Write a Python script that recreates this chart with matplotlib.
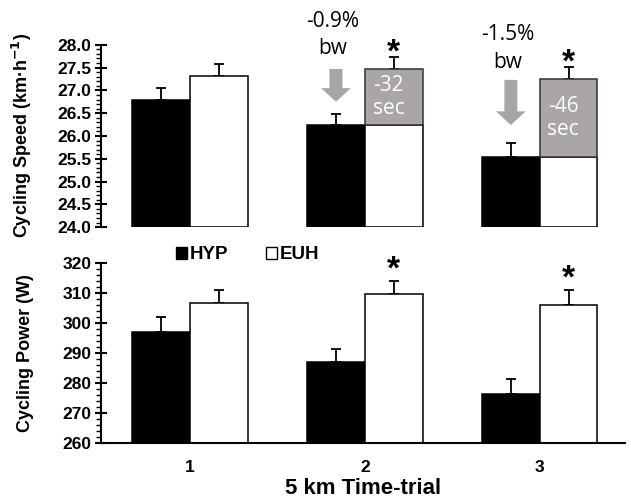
import matplotlib
matplotlib.use("Agg")
import matplotlib.pyplot as plt
from matplotlib.patches import Patch
from matplotlib.ticker import MultipleLocator

# data
trials = ["1", "2", "3"]
hyp_speed = [26.79, 26.24, 25.54]
hyp_speed_err = [0.27, 0.24, 0.31]
euh_speed = [27.32, 27.47, 27.25]
euh_speed_err = [0.26, 0.27, 0.27]
time_gain = ["", "-32\nsec", "-46\nsec"]      # seconds saved (grey part of EUH bar)
bw_loss = ["", "-0.9%\nbw", "-1.5%\nbw"]
hyp_power = [297.0, 287.0, 276.3]
hyp_power_err = [5.0, 4.3, 5.0]
euh_power = [306.7, 309.7, 306.0]
euh_power_err = [4.3, 4.3, 5.0]
signif = [False, True, True]

BOLD = "Liberation Sans"
SOFT = "Open Sans"
GREY = "#aaa6a6"
W = 0.33

fig = plt.figure(figsize=(6.31, 4.98), dpi=100)
ax1 = fig.add_axes([0.160, 0.544, 0.830, 0.366])
ax2 = fig.add_axes([0.160, 0.110, 0.830, 0.362])

x = list(range(len(trials)))
xh = [i - W / 2 for i in x]
xe = [i + W / 2 for i in x]


def style_axis(ax, lo, hi, major, minor, fmt):
    ax.set_ylim(lo, hi)
    ax.set_xlim(-0.509, 2.486)
    ax.yaxis.set_major_locator(MultipleLocator(major))
    ax.yaxis.set_minor_locator(MultipleLocator(minor))
    ax.yaxis.set_major_formatter(fmt)
    ax.tick_params(axis="y", which="major", direction="inout", length=8, width=1.5,
                   labelsize=12.5, pad=3)
    ax.tick_params(axis="y", which="minor", direction="out", length=3.5, width=1.0)
    for lab in ax.get_yticklabels():
        lab.set_fontfamily(BOLD)
        lab.set_fontweight("bold")
    for s in ["top", "right"]:
        ax.spines[s].set_visible(False)
    ax.spines["left"].set_linewidth(1.5)
    ax.spines["bottom"].set_linewidth(1.5)


ekw = dict(fmt="none", ecolor="black", elinewidth=1.3, capsize=3.6, capthick=1.3, zorder=1)

# ---- top panel: speed ----
ax1.bar(xh, [v - 24 for v in hyp_speed], W, bottom=24, color="black", edgecolor="black",
        linewidth=1.1, zorder=2)
ax1.errorbar(xh, hyp_speed, yerr=[[0] * 3, hyp_speed_err], **ekw)
for i in x:
    top_white = euh_speed[i] if not time_gain[i] else hyp_speed[i]
    ax1.bar(xe[i], top_white - 24, W, bottom=24, color="white", edgecolor="black",
            linewidth=1.1, zorder=2)
    if time_gain[i]:
        ax1.bar(xe[i], euh_speed[i] - hyp_speed[i], W, bottom=hyp_speed[i], color=GREY,
                edgecolor="#333333", linewidth=1.1, zorder=2)
        ax1.text(xe[i] - 0.03, (euh_speed[i] + hyp_speed[i]) / 2, time_gain[i], color="white",
                 ha="center", va="center", fontsize=15, family=SOFT, linespacing=1.15, zorder=3)
ax1.errorbar(xe, euh_speed, yerr=[[0] * 3, euh_speed_err], **ekw)

# body-weight loss arrows above HYP bars
arrow_top = [None, 27.47, 27.23]
arrow_bot = [None, 26.75, 26.24]
label_y = [None, 28.22, 27.92]
for i in x:
    if not bw_loss[i]:
        continue
    ax1.arrow(xh[i], arrow_top[i], 0, arrow_bot[i] - arrow_top[i], width=0.074, head_width=0.17,
              head_length=0.3, length_includes_head=True, color="#a6a6a6", lw=0,
              clip_on=False, zorder=3)
    ax1.text(xh[i] - 0.02, label_y[i], bw_loss[i], ha="center", va="center", fontsize=15,
             family=SOFT, linespacing=1.4, clip_on=False)

style_axis(ax1, 24, 28, 0.5, 0.1, "{x:.1f}")
ax1.spines["bottom"].set_visible(False)
ax1.set_xticks([])
ax1.set_ylabel("Cycling Speed (km·h$^{\\mathbf{-1}}$)", fontsize=13, fontweight="bold",
               family=BOLD)
ax1.yaxis.set_label_coords(-0.127, 0.5)

# ---- bottom panel: power ----
ax2.bar(xh, [v - 260 for v in hyp_power], W, bottom=260, color="black", edgecolor="black",
        linewidth=1.1, zorder=2)
ax2.bar(xe, [v - 260 for v in euh_power], W, bottom=260, color="white", edgecolor="black",
        linewidth=1.1, zorder=2)
ax2.errorbar(xh, hyp_power, yerr=[[0] * 3, hyp_power_err], **ekw)
ax2.errorbar(xe, euh_power, yerr=[[0] * 3, euh_power_err], **ekw)

style_axis(ax2, 260, 320, 10, 2, "{x:.0f}")
ax2.set_xticks(x)
ax2.set_xticklabels(trials, fontsize=12.5, fontweight="bold", family=BOLD)
ax2.tick_params(axis="x", length=0, pad=12)
ax2.set_ylabel("Cycling Power (W)", fontsize=13, fontweight="bold", family=BOLD)
ax2.yaxis.set_label_coords(-0.127, 0.5)
ax2.set_xlabel("5 km Time-trial", fontsize=16, fontweight="bold", family=BOLD, labelpad=2.5)

# significance stars
for i in x:
    if signif[i]:
        ax1.annotate("*", (xe[i], euh_speed[i] + euh_speed_err[i]), xytext=(0, -3.5),
                     textcoords="offset points", ha="center", va="baseline", fontsize=24,
                     fontweight="bold", family=BOLD, annotation_clip=False)
        ax2.annotate("*", (xe[i], euh_power[i] + euh_power_err[i]), xytext=(0, 1.5),
                     textcoords="offset points", ha="center", va="baseline", fontsize=24,
                     fontweight="bold", family=BOLD, annotation_clip=False)

handles = [Patch(facecolor="black", edgecolor="black", linewidth=1),
           Patch(facecolor="white", edgecolor="black", linewidth=1)]
leg = ax2.legend(handles, ["HYP", "EUH"], loc="center", bbox_to_anchor=(0.28, 1.045), ncol=2,
                 frameon=False, handlelength=0.6, handleheight=0.6, handletextpad=0.15,
                 columnspacing=2.0, borderaxespad=0,
                 prop={"family": BOLD, "weight": "bold", "size": 13.5})

fig.savefig("out.png", dpi=100)
